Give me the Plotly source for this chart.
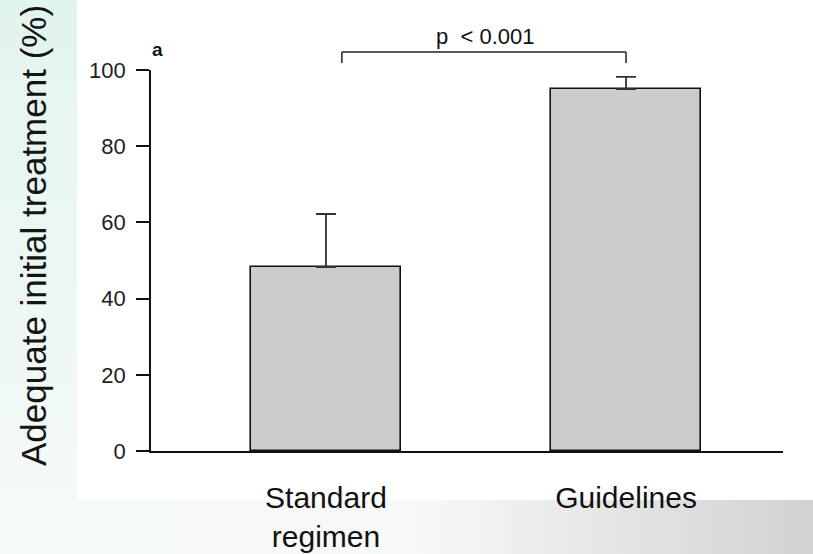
import base64
import plotly.graph_objects as go

# ---- data ----
categories = ["Standard<br>regimen", "Guidelines"]
values = [48.3, 95.0]
err_plus = [13.9, 3.2]
y_ticks = [0, 20, 40, 60, 80, 100]
y_title = "Adequate initial treatment (%)"
p_label = "p  < 0.001"
panel_label = "a"

W, H = 813, 554
L, R, T, B = 151, 30, 70, 103
pw, ph = W - L - R, H - T - B

svg = f'''<svg xmlns="http://www.w3.org/2000/svg" width="{W}" height="{H}" viewBox="0 0 {W} {H}" preserveAspectRatio="none">
<defs>
<linearGradient id="g1" x1="0" y1="0" x2="0" y2="1">
<stop offset="0" stop-color="#e2f4ee"/><stop offset="1" stop-color="#f4faf8"/></linearGradient>
<linearGradient id="g2" x1="0" y1="0" x2="1" y2="0">
<stop offset="0" stop-color="#f5faf9"/><stop offset="0.5" stop-color="#f8f9f9"/><stop offset="1" stop-color="#d2d2d2"/></linearGradient>
</defs>
<rect x="0" y="0" width="{W}" height="{H}" fill="#ffffff"/>
<rect x="0" y="500" width="{W}" height="{H-500}" fill="url(#g2)"/>
<rect x="0" y="0" width="77" height="500" fill="url(#g1)"/>
</svg>'''
src = "data:image/svg+xml;base64," + base64.b64encode(svg.encode()).decode()

xs = list(range(len(categories)))

fig = go.Figure()
fig.add_trace(go.Bar(
    x=xs, y=values, width=0.5,
    marker=dict(color="#cccccc", line=dict(color="#111111", width=1.6)),
    error_y=dict(type="data", symmetric=False, array=err_plus,
                 arrayminus=[0] * len(values), color="#333333",
                 thickness=1.8, width=10),
    showlegend=False, hoverinfo="skip",
))

def px_to_px(xpx):
    return (xpx - L) / pw

def py_to_py(ypx):
    return (H - B - ypx) / ph

# significance bracket (x in data, y in paper)
br_top = py_to_py(52)
br_bot = py_to_py(63)
x_left, x_right = 0.053, 1.0
fig.add_shape(type="line", xref="x", yref="paper", x0=x_left, x1=x_left, y0=br_bot, y1=br_top,
              line=dict(color="#222222", width=1.5))
fig.add_shape(type="line", xref="x", yref="paper", x0=x_left, x1=x_right, y0=br_top, y1=br_top,
              line=dict(color="#222222", width=1.5))
fig.add_shape(type="line", xref="x", yref="paper", x0=x_right, x1=x_right, y0=br_bot, y1=br_top,
              line=dict(color="#222222", width=1.5))

fig.add_annotation(text=p_label, xref="x", yref="paper", x=0.53, y=py_to_py(37),
                   xanchor="center", yanchor="middle",
                   showarrow=False, font=dict(family="Liberation Sans", size=22, color="#111111"))
fig.add_annotation(text=f"<b>{panel_label}</b>", xref="paper", yref="paper",
                   x=px_to_px(157), y=py_to_py(49), xanchor="center", yanchor="middle",
                   showarrow=False, font=dict(family="Liberation Sans", size=19, color="#111111"))
fig.add_annotation(text=y_title, xref="paper", yref="paper", textangle=-90,
                   x=px_to_px(33), y=py_to_py(236), xanchor="center", yanchor="middle",
                   showarrow=False, font=dict(family="Liberation Sans", size=35, color="#151515"))

fig.add_layout_image(dict(source=src, xref="paper", yref="paper",
                          x=-L / pw, y=1 + T / ph, sizex=W / pw, sizey=H / ph,
                          xanchor="left", yanchor="top", sizing="stretch", layer="below"))

fig.update_layout(
    width=W, height=H, autosize=False,
    margin=dict(l=L, r=R, t=T, b=B, pad=0, autoexpand=False),
    paper_bgcolor="#ffffff", plot_bgcolor="rgba(0,0,0,0)",
    font=dict(family="Liberation Sans", color="#111111"),
    bargap=0,
)
fig.update_xaxes(
    range=[-0.583, 1.523], tickvals=xs, ticktext=categories, automargin=False,
    showline=True, linecolor="#111111", linewidth=1.6, ticks="", showgrid=False,
    zeroline=False, tickfont=dict(size=30, color="#111111"), ticklabelstandoff=19,
)
fig.update_yaxes(
    range=[0, 100], tickvals=y_ticks, showline=True, linecolor="#111111", linewidth=1.6,
    ticks="outside", ticklen=13, tickwidth=1.5, tickcolor="#111111", automargin=False,
    showgrid=False, zeroline=False, tickfont=dict(size=22, color="#222222"),
    ticklabelstandoff=6,
)

fig.write_html("out.html", config={"displayModeBar": False},
               post_script="document.body.style.margin='0';document.body.style.padding='0';")
